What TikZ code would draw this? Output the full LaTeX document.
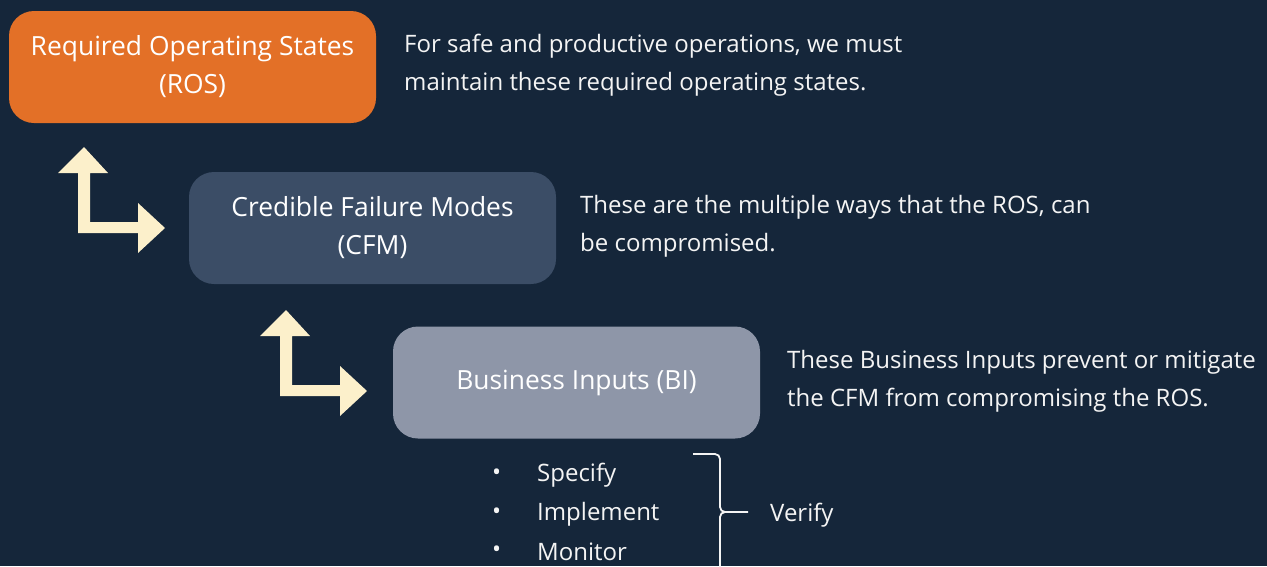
\documentclass[tikz,border=0pt]{standalone}
\usepackage{fontspec}
\setmainfont{Open Sans}
\definecolor{bg}{HTML}{15263A}
\definecolor{rosc}{HTML}{E37027}
\definecolor{cfmc}{HTML}{3B4D66}
\definecolor{bic}{HTML}{8E96A8}
\definecolor{arrowc}{HTML}{FCF0CB}
\definecolor{txt}{HTML}{F4F4F4}
\tikzset{
  box/.style={rounded corners=25pt, minimum width=367pt, minimum height=112pt, inner sep=0pt, outer sep=0pt, text=white, align=center, font=\fontsize{26.4}{38}\selectfont},
  desc/.style={anchor=west, inner sep=0pt, text=txt, align=left, font=\fontsize{24}{38}\selectfont},
  lst/.style={anchor=west, inner sep=0pt, text=txt, font=\fontsize{24}{38}\selectfont},
  bracec/.style={draw=txt, line width=1.8pt},
  pics/elbow/.style={code={
    \fill[arrowc] (0,0) -- (0,-60) -- (-20,-60) -- (6,-86) -- (30,-60) -- (12,-60) -- (12,-11) -- (60,-11) -- (60,-30) -- (87,-5) -- (60,20) -- (60,0) -- cycle;
  }}
}
\begin{document}
\begin{tikzpicture}[x=1pt,y=-1pt]
\fill[bg] (0,0) rectangle (1267,566);
\useasboundingbox (0,0) rectangle (1267,566);
\node[box, fill=rosc] (ros) at (192.5,67) {Required Operating States\\(ROS)};
\node[box, fill=cfmc] (cfm) at (372.5,228) {Credible Failure Modes\\(CFM)};
\node[box, fill=bic] (bi) at (576.5,382.5) {Business Inputs (BI)};
\pic at (78,233) {elbow};
\pic at (280,396) {elbow};
\node[desc] (d1) at (404,65) {For safe and productive operations, we must\\maintain these required operating states.};
\node[desc] (d2) at (580,226) {These are the multiple ways that the ROS, can\\be compromised.};
\node[desc] (d3) at (787,381) {These Business Inputs prevent or mitigate\\the CFM from compromising the ROS.};
\node[lst] (b1) at (492,475) {•};
\node[lst] (b2) at (492,514) {•};
\node[lst] (b3) at (492,552) {•};
\node[lst] (l1) at (537,475) {Specify};
\node[lst] (l2) at (537,514) {Implement};
\node[lst] (l3) at (537,552) {Monitor};
\coordinate (bt) at (693,454);
\coordinate (bm) at (748,512);
\coordinate (bb) at (720,580);
\draw[bracec] (bt) -- (715,454) to[out=0,in=90] (720,459) -- (720,507) to[out=-90,in=180] (725,512) -- (bm);
\draw[bracec] (725,512) to[out=180,in=90] (720,517) -- (bb);
\node[lst] (v) at (770,515) {Verify};
\end{tikzpicture}
\end{document}
